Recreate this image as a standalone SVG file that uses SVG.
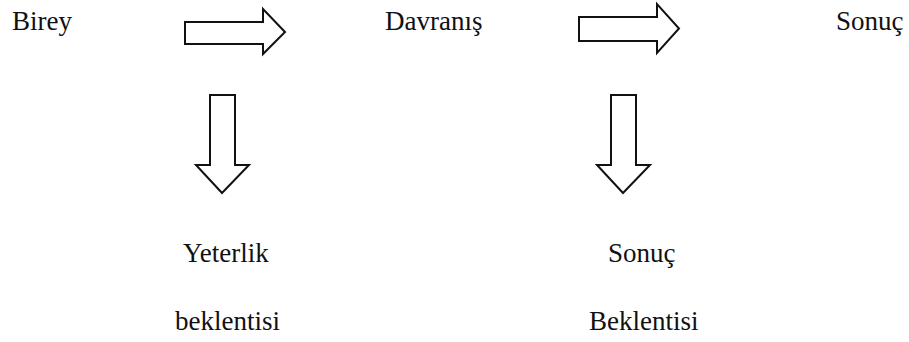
<svg xmlns="http://www.w3.org/2000/svg" width="909" height="342" viewBox="0 0 909 342">
<style>
.t{font-family:"Liberation Serif","Times New Roman",serif;font-size:27px;fill:#111}
.a{fill:#fff;stroke:#111;stroke-width:2;stroke-linejoin:miter}
</style>
<rect width="909" height="342" fill="#fff"/>
<g id="birey"><text class="t" x="12" y="30">Birey</text></g>
<g id="davranis"><text class="t" x="385" y="30">Davranış</text></g>
<g id="sonuc"><text class="t" x="836" y="30">Sonuç</text></g>
<g id="yeterlik"><text class="t" x="183" y="262">Yeterlik</text><text class="t" x="175" y="330">beklentisi</text></g>
<g id="sonuc-beklentisi"><text class="t" x="608" y="262">Sonuç</text><text class="t" x="589" y="330">Beklentisi</text></g>
<g id="connectors">
<path class="a" d="M185,22 H263 V9 L285,32 L263,54 V44 H185 Z"/>
<path class="a" d="M579,17 H657 V4 L679,28.5 L657,53 V41 H579 Z"/>
<path class="a" d="M210,95 H235 V165 H249 L222,193 L196,165 H210 Z"/>
<path class="a" d="M611,95 H636 V165 H650 L623,193 L597,165 H611 Z"/>
</g>
</svg>
